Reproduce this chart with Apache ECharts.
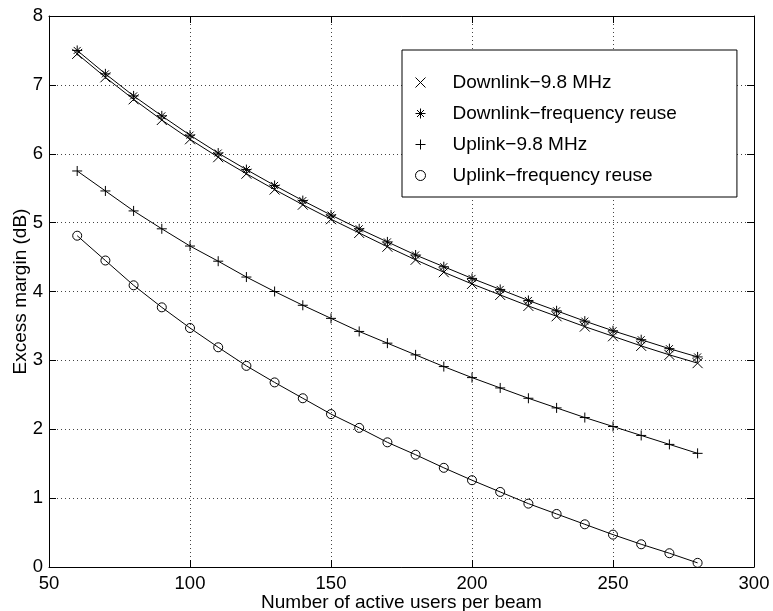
<!DOCTYPE html>
<html>
<head>
<meta charset="utf-8">
<script src="https://cdn.jsdelivr.net/npm/echarts@6/dist/echarts.min.js"></script>
<style>
  html, body { margin: 0; padding: 0; background: #fff; }
  #chart { width: 773px; height: 611px; }
</style>
</head>
<body>
<div id="chart"></div>
<script>
// Number of active users per beam (x values shared by every curve)
const users = [60, 70, 80, 90, 100, 110, 120, 130, 140, 150, 160, 170,
               180, 190, 200, 210, 220, 230, 240, 250, 260, 270, 280];

// Excess margin in dB for each scheme
const downlink98 = [7.45, 7.11, 6.79, 6.49, 6.21, 5.95, 5.71, 5.48, 5.26, 5.05, 4.85, 4.65,
                    4.46, 4.28, 4.11, 3.95, 3.79, 3.64, 3.49, 3.35, 3.21, 3.08, 2.96];
const downlinkReuse = [7.50, 7.16, 6.84, 6.55, 6.27, 6.01, 5.77, 5.54, 5.32, 5.11, 4.91, 4.72,
                       4.53, 4.36, 4.19, 4.03, 3.87, 3.72, 3.57, 3.43, 3.30, 3.17, 3.05];
const uplink98 = [5.75, 5.46, 5.17, 4.91, 4.66, 4.44, 4.21, 4.00, 3.80, 3.61, 3.42, 3.25,
                  3.08, 2.91, 2.75, 2.60, 2.45, 2.31, 2.17, 2.04, 1.91, 1.78, 1.65];
const uplinkReuse = [4.81, 4.45, 4.09, 3.77, 3.47, 3.19, 2.92, 2.68, 2.45, 2.22, 2.02, 1.81,
                     1.63, 1.44, 1.26, 1.09, 0.92, 0.77, 0.62, 0.47, 0.33, 0.20, 0.06];

const seriesNames = ['Downlink\u22129.8 MHz', 'Downlink\u2212frequency reuse',
                     'Uplink\u22129.8 MHz', 'Uplink\u2212frequency reuse'];

// Marker glyphs: x, asterisk, plus, open circle
const markX = 'path://M0,0L10,10M10,0L0,10';
const markStar = 'path://M5,0L5,10M0,5L10,5M1.5,1.5L8.5,8.5M8.5,1.5L1.5,8.5';
const markPlus = 'path://M5,0L5,10M0,5L10,5';
const markCircle = 'circle';

const FONT = 'Liberation Sans, Arial, Helvetica, sans-serif';

function pairs(values) {
  return users.map((u, i) => [u, values[i]]);
}

function curve(name, values, symbol, size) {
  return {
    name: name,
    type: 'line',
    data: pairs(values),
    xAxisIndex: 0,
    yAxisIndex: 0,
    symbol: symbol,
    symbolSize: size,
    showAllSymbol: true,
    lineStyle: { color: '#000', width: 1 },
    itemStyle: { color: 'transparent', borderColor: '#000', borderWidth: 1 },
    emphasis: { disabled: true },
    silent: true,
    z: 3
  };
}

const gridDots = { show: true, lineStyle: { color: '#444', width: 1, type: [1, 3] } };
const boxLine = { show: true, onZero: false, lineStyle: { color: '#000', width: 1 } };
const innerTick = { show: true, inside: true, length: 7, lineStyle: { color: '#000', width: 1 } };

const chart = echarts.init(document.getElementById('chart'), null, { renderer: 'canvas' });
chart.setOption({
  animation: false,
  backgroundColor: '#fff',
  grid: { left: 49, right: 19, top: 16, bottom: 44, containLabel: false, outerBoundsMode: 'none' },
  legend: {
    orient: 'vertical',
    left: 402,
    top: 50,
    padding: [23, 60, 12, 13],
    itemWidth: 10,
    itemHeight: 10,
    itemGap: 12,
    backgroundColor: '#fff',
    borderColor: '#000',
    borderWidth: 1,
    borderRadius: 0,
    selectedMode: false,
    itemStyle: { color: 'transparent', borderColor: '#000', borderWidth: 1 },
    textStyle: { color: '#000', fontSize: 19, fontFamily: FONT, padding: [0, 0, 0, 22] },
    data: [
      { name: seriesNames[0], icon: markX },
      { name: seriesNames[1], icon: markStar },
      { name: seriesNames[2], icon: markPlus },
      { name: seriesNames[3], icon: markCircle }
    ]
  },
  xAxis: [
    {
      type: 'value', min: 50, max: 300, interval: 50, position: 'bottom',
      axisLine: boxLine, axisTick: innerTick, splitLine: gridDots,
      axisLabel: { color: '#000', fontSize: 18.5, fontFamily: FONT, margin: 7 },
      name: 'Number of active users per beam', nameLocation: 'middle', nameGap: 26,
      nameMoveOverlap: false,
      nameTextStyle: { color: '#000', fontSize: 19, fontFamily: FONT }
    },
    {
      type: 'value', min: 50, max: 300, interval: 50, position: 'top',
      axisLine: boxLine, axisTick: innerTick, axisLabel: { show: false }, splitLine: { show: false }
    }
  ],
  yAxis: [
    {
      type: 'value', min: 0, max: 8, interval: 1, position: 'left',
      axisLine: boxLine, axisTick: innerTick, splitLine: gridDots,
      axisLabel: { color: '#000', fontSize: 18.5, fontFamily: FONT, margin: 6 },
      name: 'Excess margin (dB)', nameLocation: 'middle', nameGap: 19, nameRotate: 90,
      nameMoveOverlap: false,
      nameTextStyle: { color: '#000', fontSize: 19, fontFamily: FONT }
    },
    {
      type: 'value', min: 0, max: 8, interval: 1, position: 'right',
      axisLine: boxLine, axisTick: innerTick, axisLabel: { show: false }, splitLine: { show: false }
    }
  ],
  series: [
    curve(seriesNames[0], downlink98, markX, 10),
    curve(seriesNames[1], downlinkReuse, markStar, 10),
    curve(seriesNames[2], uplink98, markPlus, 10),
    curve(seriesNames[3], uplinkReuse, markCircle, 9)
  ]
});
</script>
</body>
</html>
